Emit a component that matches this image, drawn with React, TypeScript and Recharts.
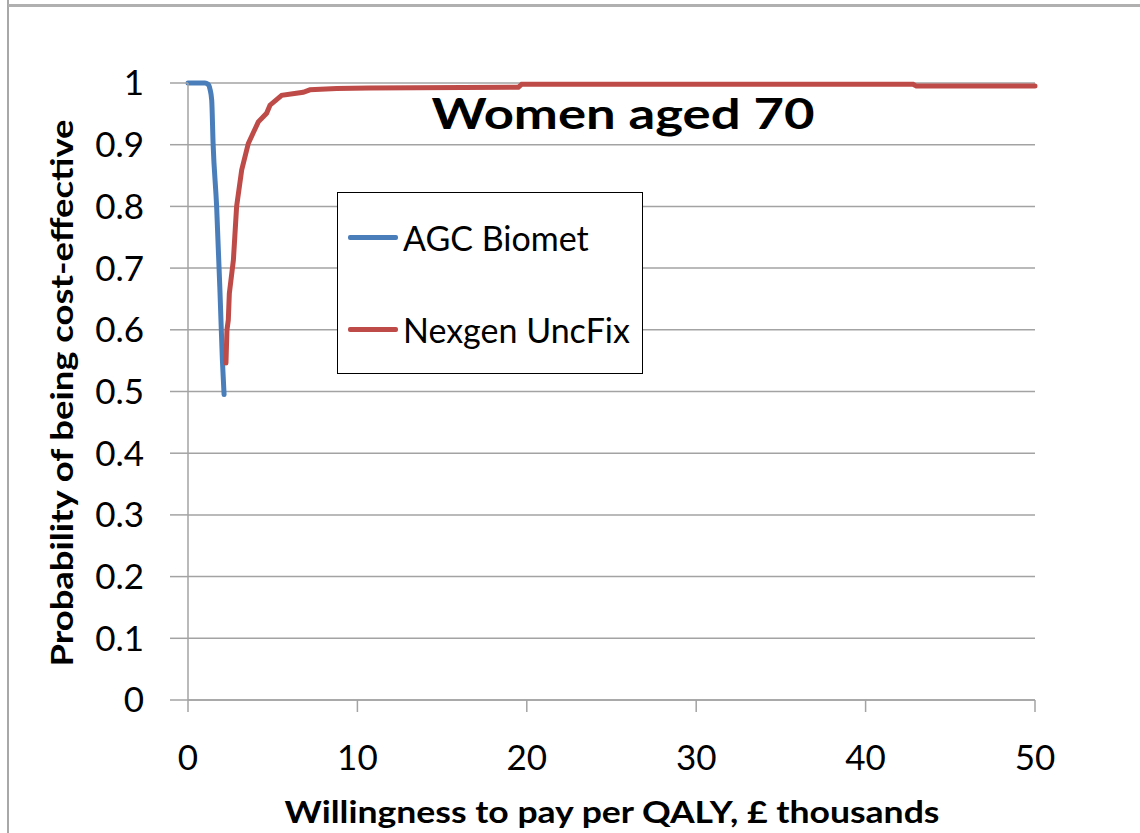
import React from "react";
import {
  LineChart,
  Line,
  XAxis,
  YAxis,
  CartesianGrid,
  Legend,
  Customized,
} from "recharts";

// willingness to pay (£ thousands) and probability of being cost-effective
const agcX = [0, 1.0, 1.18, 1.3, 1.4, 1.48, 1.69, 1.89, 2.03, 2.13];
const agcY = [1, 1, 0.998, 0.99, 0.972, 0.903, 0.8, 0.66, 0.551, 0.495];

const nexX = [
  2.24, 2.3, 2.38, 2.44, 2.68, 2.87, 3.17, 3.56, 4.15, 4.64, 4.84, 5.53, 6.8,
  7.2, 8.78, 10.7, 19.5, 19.7, 42.8, 43.0, 50,
];
const nexY = [
  0.546, 0.6, 0.616, 0.659, 0.713, 0.8, 0.859, 0.902, 0.937, 0.951, 0.964,
  0.98, 0.985, 0.989, 0.991, 0.992, 0.993, 0.998, 0.998, 0.995, 0.995,
];

const xTicks = [0, 10, 20, 30, 40, 50];
const yTicks = [0, 0.1, 0.2, 0.3, 0.4, 0.5, 0.6, 0.7, 0.8, 0.9, 1];

const seriesNames = ["AGC Biomet", "Nexgen UncFix"];
const seriesColors = ["#4a7ebb", "#be4b48"];

const title = "Women aged 70";
const xTitle = "Willingness to pay per QALY, £ thousands";
const yTitle = "Probability of being cost-effective";

const agcData = agcX.map((x, i) => ({ x, y: agcY[i] }));
const nexData = nexX.map((x, i) => ({ x, y: nexY[i] }));

const FONT = "Lato, 'Open Sans', sans-serif";
const GRID = "#a3a3a3";

const fmtY = (v: number) => (v === 0 || v === 1 ? String(v) : v.toFixed(1));

const LegendBox = () => (
  <div
    style={{
      width: 304,
      height: 180,
      border: "1px solid #000",
      background: "#fff",
      fontFamily: FONT,
      fontSize: 34,
      color: "#000",
      position: "relative",
    }}
  >
    {seriesNames.map((name, i) => (
      <div
        key={name}
        style={{
          position: "absolute",
          left: 10,
          top: i === 0 ? 44 - 20 : 136 - 20,
          height: 40,
          display: "flex",
          alignItems: "center",
          whiteSpace: "nowrap",
        }}
      >
        <span
          style={{
            display: "inline-block",
            width: 50,
            height: 5,
            borderRadius: 2,
            background: seriesColors[i],
            marginRight: 5,
          }}
        />
        {name}
      </div>
    ))}
  </div>
);

const Texts = () => (
  <g fontFamily={FONT} fill="#000">
    <text
      x={623}
      y={129}
      textAnchor="middle"
      fontSize={42}
      fontWeight="bold"
      textLength={383}
      lengthAdjust="spacingAndGlyphs"
    >
      {title}
    </text>
    <text
      x={612}
      y={823}
      textAnchor="middle"
      fontSize={31}
      fontWeight="bold"
      textLength={655}
      lengthAdjust="spacingAndGlyphs"
    >
      {xTitle}
    </text>
    <text
      x={0}
      y={0}
      transform="translate(73 393) rotate(-90)"
      textAnchor="middle"
      fontSize={31}
      fontWeight="bold"
      textLength={547}
      lengthAdjust="spacingAndGlyphs"
    >
      {yTitle}
    </text>
  </g>
);

export default function App() {
  return (
    <div style={{ position: "absolute", left: 0, top: 0, width: 1140, height: 833, background: "#fff" }}>
      <div style={{ position: "absolute", left: 7, top: 0, width: 2, height: 833, background: "#a8a8a8" }} />
      <div style={{ position: "absolute", left: 8, top: 4, width: 1132, height: 3, background: "#b0b0b0" }} />
      <LineChart
        width={1140}
        height={833}
        margin={{ top: 83, right: 105, left: 0, bottom: 0 }}
        style={{ position: "absolute", left: 0, top: 0 }}
      >
        <CartesianGrid vertical={false} stroke={GRID} strokeWidth={1.5} />
        <XAxis
          type="number"
          dataKey="x"
          domain={[0, 50]}
          ticks={xTicks}
          height={133}
          tickSize={12}
          tickMargin={33}
          stroke={GRID}
          strokeWidth={1.5}
          tick={{ fill: "#000", fontSize: 35, fontFamily: FONT }}
        />
        <YAxis
          type="number"
          dataKey="y"
          domain={[0, 1]}
          ticks={yTicks}
          width={188}
          tickSize={18}
          tickMargin={26}
          tickFormatter={fmtY}
          stroke={GRID}
          strokeWidth={1.5}
          tick={{ fill: "#000", fontSize: 35, fontFamily: FONT }}
        />
        <Line
          data={agcData}
          dataKey="y"
          name={seriesNames[0]}
          type="monotone"
          stroke={seriesColors[0]}
          strokeWidth={5}
          strokeLinecap="round"
          dot={false}
          isAnimationActive={false}
        />
        <Line
          data={nexData}
          dataKey="y"
          name={seriesNames[1]}
          type="linear"
          stroke={seriesColors[1]}
          strokeWidth={5}
          strokeLinecap="round"
          dot={false}
          isAnimationActive={false}
        />
        <Legend
          layout="vertical"
          align="center"
          verticalAlign="middle"
          content={() => <LegendBox />}
          wrapperStyle={{ position: "absolute", left: 337, top: 192, width: 306, height: 182, margin: 0 }}
        />
        <Customized component={Texts} />
      </LineChart>
    </div>
  );
}
